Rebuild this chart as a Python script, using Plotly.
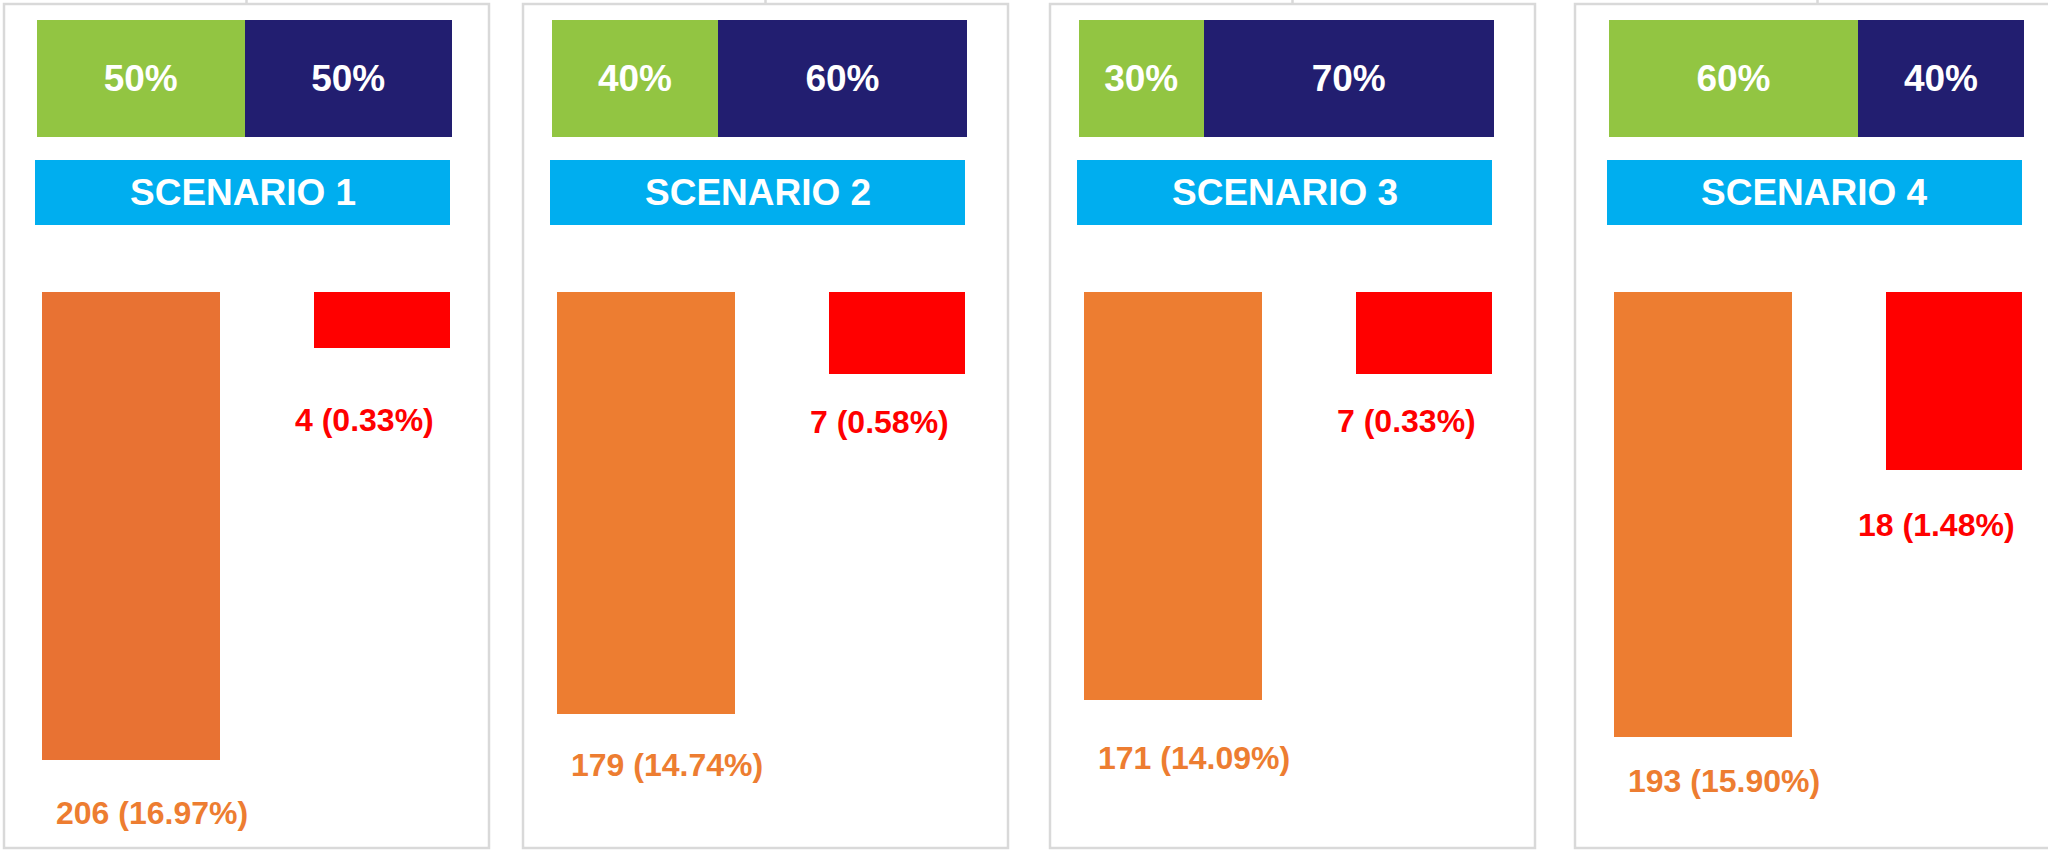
import plotly.graph_objects as go

# ---------------- data ----------------
scenarios = ["SCENARIO 1", "SCENARIO 2", "SCENARIO 3", "SCENARIO 4"]
green_share = [50, 40, 30, 60]
navy_share = [50, 60, 70, 40]
orange_count = [206, 179, 171, 193]
orange_pct = [16.97, 14.74, 14.09, 15.90]
red_count = [4, 7, 7, 18]
red_pct = [0.33, 0.58, 0.33, 1.48]

# ---------------- layout constants ----------------
W, H = 2048, 851
FONT = "Liberation Sans, Arial, Helvetica, sans-serif"
GREEN = "#92C542"
NAVY = "#221E70"
CYAN = "#00AEEF"
ORANGE_BAR = ["#E87233", "#ED7D31", "#ED7D31", "#ED7D31"]
ORANGE_TXT = "#ED7D31"
RED = "#FF0000"
BORDER = "#D9D9D9"

panel_left = [4, 523, 1050, 1575]
panel_w = 485
content_left = [35, 550, 1077, 1607]
# label offsets below bar ends (px)
orange_label_gap = [53, 51, 58, 44]
red_label_gap = [72, 48, 47, 55]

# axis scales (orange / red measures use their own hidden axes, bars drawn from the axis minimum)
ORANGE_MIN, ORANGE_MAX = -68, 259.5
RED_MIN, RED_MAX = -2.4, 61.8


def fx(px):
    return px / W


def fy(px):
    return 1 - px / H


fig = go.Figure()
layout = dict(
    width=W, height=H, margin=dict(l=0, r=0, t=0, b=0),
    paper_bgcolor="white", plot_bgcolor="rgba(0,0,0,0)",
    showlegend=False, barmode="stack",
    font=dict(family=FONT),
)
shapes = []
annotations = []

k = 0


def new_axes(xdom, ydom, xrange, yrange):
    global k
    k += 1
    sx = "" if k == 1 else str(k)
    layout["xaxis" + sx] = dict(domain=xdom, range=xrange, visible=False, fixedrange=True,
                                anchor="y" + sx)
    layout["yaxis" + sx] = dict(domain=ydom, range=yrange, visible=False, fixedrange=True,
                                anchor="x" + sx)
    return "x" + sx, "y" + sx


for i in range(4):
    c0 = content_left[i]
    # panel border + connector tick
    pl = panel_left[i]
    shapes.append(dict(type="rect", xref="paper", yref="paper",
                       x0=fx(pl), x1=fx(pl + panel_w), y0=fy(848), y1=fy(4),
                       line=dict(color=BORDER, width=2.5), fillcolor="rgba(0,0,0,0)", layer="below"))
    shapes.append(dict(type="line", xref="paper", yref="paper",
                       x0=fx(pl + panel_w / 2), x1=fx(pl + panel_w / 2), y0=fy(4), y1=1,
                       line=dict(color=BORDER, width=2.5)))

    # top split bar
    xa, ya = new_axes([fx(c0 + 2), fx(c0 + 417)], [fy(137), fy(20)], [0, 100], [-0.5, 0.5])
    for share, col in ((green_share[i], GREEN), (navy_share[i], NAVY)):
        fig.add_trace(go.Bar(
            x=[share], y=[0], orientation="h", width=1, xaxis=xa, yaxis=ya,
            marker=dict(color=col, line=dict(width=0)),
            text=[f"<b>{share}%</b>"], textposition="inside", insidetextanchor="middle",
            textfont=dict(color="white", size=37, family=FONT), constraintext="none",
            hoverinfo="skip",
        ))

    # scenario banner
    shapes.append(dict(type="rect", xref="paper", yref="paper",
                       x0=fx(c0), x1=fx(c0 + 415), y0=fy(225), y1=fy(160),
                       fillcolor=CYAN, line=dict(width=0), layer="below"))
    annotations.append(dict(xref="paper", yref="paper", x=fx(c0 + 207.5), y=fy(192.5),
                            text=f"<b>{scenarios[i]}</b>", showarrow=False,
                            xanchor="center", yanchor="middle",
                            font=dict(color="white", size=37, family=FONT)))

    # orange bar
    xa, ya = new_axes([fx(c0 + 7), fx(c0 + 185)], [0, fy(292)], [-0.5, 0.5], [ORANGE_MAX, ORANGE_MIN])
    fig.add_trace(go.Bar(
        x=[0], y=[orange_count[i] - ORANGE_MIN], base=[ORANGE_MIN], width=1,
        xaxis=xa, yaxis=ya, marker=dict(color=ORANGE_BAR[i], line=dict(width=0)),
        hoverinfo="skip",
    ))
    annotations.append(dict(xref=xa, yref=ya, x=0, y=orange_count[i],
                            text=f"<b>{orange_count[i]} ({orange_pct[i]:.2f}%)</b>",
                            showarrow=False, xanchor="center", yanchor="middle",
                            xshift=21, yshift=-orange_label_gap[i],
                            font=dict(color=ORANGE_TXT, size=32, family=FONT)))

    # red bar
    xa, ya = new_axes([fx(c0 + 279), fx(c0 + 415)], [0, fy(292)], [-0.5, 0.5], [RED_MAX, RED_MIN])
    fig.add_trace(go.Bar(
        x=[0], y=[red_count[i] - RED_MIN], base=[RED_MIN], width=1,
        xaxis=xa, yaxis=ya, marker=dict(color=RED, line=dict(width=0)),
        hoverinfo="skip",
    ))
    annotations.append(dict(xref=xa, yref=ya, x=0, y=red_count[i],
                            text=f"<b>{red_count[i]} ({red_pct[i]:.2f}%)</b>",
                            showarrow=False, xanchor="center", yanchor="middle",
                            xshift=-18, yshift=-red_label_gap[i],
                            font=dict(color=RED, size=32, family=FONT)))

layout["shapes"] = shapes
layout["annotations"] = annotations
fig.update_layout(**layout)

fig.write_html("out.html", config={"displayModeBar": False, "staticPlot": True})
